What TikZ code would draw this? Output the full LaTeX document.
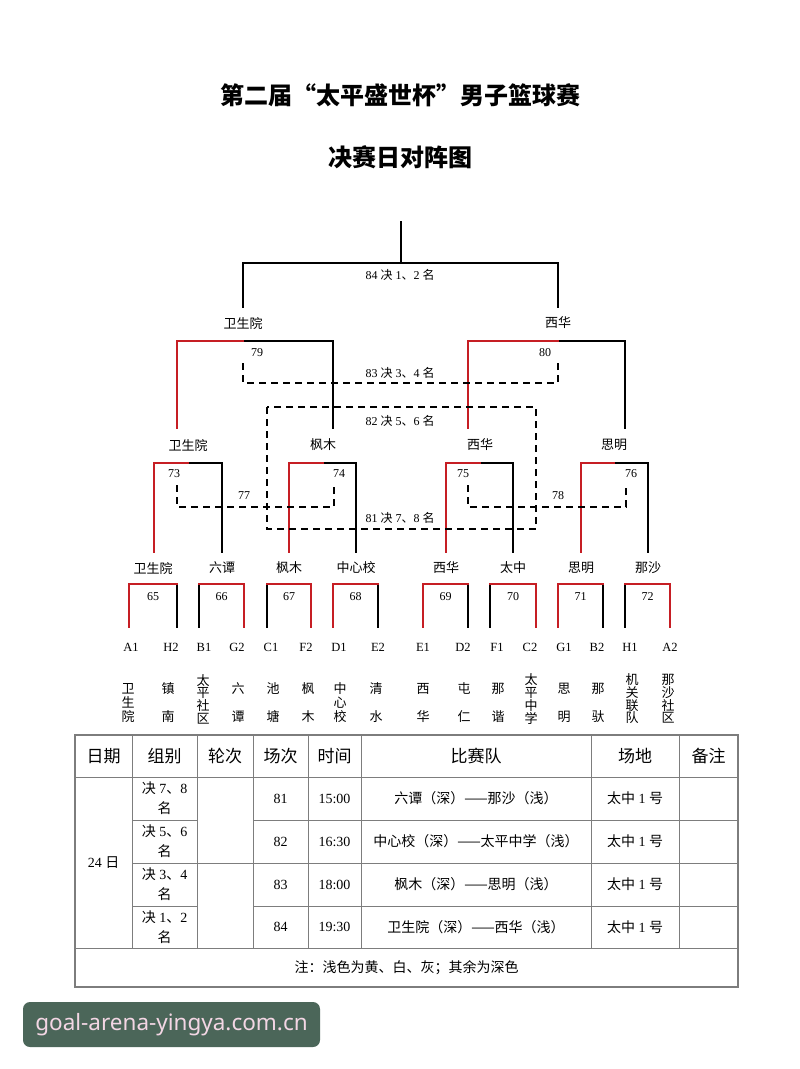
\documentclass[tikz,border=0pt]{standalone}
\usepackage{fontspec}
\setmainfont{Liberation Serif}
\newfontfamily\cjk{Noto Sans CJK SC}
\newfontfamily\wmfont{Noto Sans}
\definecolor{brred}{RGB}{198,30,36}
\definecolor{tabgray}{RGB}{125,125,125}
\definecolor{wmgreen}{RGB}{75,102,89}
\definecolor{wmpink}{RGB}{243,214,228}
\usetikzlibrary{positioning}
\newcommand{\jue}[3]{#1 {\cjk 决} #2{\cjk 、}#3 {\cjk 名}}
\newcommand{\grp}[2]{{\cjk 决} #1{\cjk 、}#2\\{\cjk 名}}

\begin{document}
\begin{tikzpicture}[x=1pt,y=-1pt,
  title/.style={font=\cjk\bfseries\fontsize{24}{28}\selectfont,inner sep=0pt},
  team/.style={font=\cjk\fontsize{13}{15}\selectfont,inner sep=0pt},
  num/.style={font=\fontsize{12}{14}\selectfont,inner sep=0pt},
  code/.style={font=\fontsize{12.5}{14}\selectfont,inner sep=0pt},
  redline/.style={draw=brred,line width=2pt,line cap=rect},
  blkline/.style={draw=black,line width=2pt,line cap=rect},
  dashline/.style={draw=black,line width=2pt,dash pattern=on 7pt off 5pt},
  grid/.style={draw=tabgray,line width=1pt},
  thead/.style={font=\cjk\fontsize{17}{20}\selectfont,inner sep=0pt},
  tcell/.style={font=\fontsize{14}{20}\selectfont,inner sep=0pt,align=center}]

\fill[white] (0,0) rectangle (800,1069);
\useasboundingbox (0,0) rectangle (800,1069);

% titles
\node[title] (title1) at (400,95) {第二届“太平盛世杯”男子篮球赛};
\node[title] (title2) at (400,157) {决赛日对阵图};

% first round, 65-72
\foreach \m/\l/\r/\cl/\cr in {65/129/177/brred/black, 66/199/244/black/brred,
    67/267/311/black/brred, 68/333/378/brred/black, 69/423/468/brred/black,
    70/490/536/black/brred, 71/558/603/brred/black, 72/625/670/black/brred}{
  \coordinate (m\m-tl) at (\l,584);
  \coordinate (m\m-tr) at (\r,584);
  \coordinate (m\m-bl) at (\l,627);
  \coordinate (m\m-br) at (\r,627);
  \draw[blkline,draw=\cl] (m\m-bl) -- (m\m-tl);
  \draw[blkline,draw=\cr] (m\m-br) -- (m\m-tr);
  \draw[redline] (m\m-tl) -- (m\m-tr);
  \node[num] (m\m) at ({(\l+\r)/2},597) {\m};
}

% group codes
\foreach \x/\c in {131/A1,171/H2,204/B1,237/G2,271/C1,306/F2,339/D1,378/E2,
    423/E1,463/D2,497/F1,530/C2,564/G1,597/B2,630/H1,670/A2}
  \node[code] (c\c) at (\x,647) {\c};

% team names, set upright in a column
\foreach \x/\y/\s/\t [count=\i] in {128/703/14/{卫\\生\\院}, 168/703/28/{镇\\南},
    203/699/12.7/{太\\平\\社\\区}, 238/703/28/{六\\谭}, 273/703/28/{池\\塘},
    308/703/28/{枫\\木}, 340/703/14/{中\\心\\校}, 376/703/28/{清\\水},
    423/703/28/{西\\华}, 464/703/28/{屯\\仁}, 498/703/28/{那\\谐},
    531/699/12.7/{太\\平\\中\\学}, 564/703/28/{思\\明}, 598/703/28/{那\\驮},
    632/699/12.7/{机\\关\\联\\队}, 668/699/12.7/{那\\沙\\社\\区}}
  \node[team,align=center,font=\cjk\fontsize{13}{\s}\selectfont] (tm\i) at (\x,\y) {\t};

% winners of the first round
\foreach \x/\t [count=\i] in {153/卫生院,222/六谭,289/枫木,356/中心校,
    446/西华,513/太中,581/思明,648/那沙}
  \node[team] (wa\i) at (\x,568) {\t};

% second round, 73-76
\foreach \m/\l/\c/\r/\nx in {73/154/188/222/174, 74/289/323/356/339,
    75/446/480/513/463, 76/581/614/648/631}{
  \coordinate (m\m-bl) at (\l,552);
  \coordinate (m\m-tl) at (\l,463);
  \coordinate (m\m-tc) at (\c,463);
  \coordinate (m\m-tr) at (\r,463);
  \coordinate (m\m-br) at (\r,552);
  \draw[blkline] (m\m-tc) -- (m\m-tr) -- (m\m-br);
  \draw[redline] (m\m-bl) -- (m\m-tl) -- (m\m-tc);
  \node[num] (m\m) at (\nx,474) {\m};
}
\foreach \x/\t [count=\i] in {188/卫生院,323/枫木,480/西华,614/思明}
  \node[team] (wb\i) at (\x,445) {\t};

% semi finals, 79-80
\foreach \m/\l/\c/\r/\nx in {79/177/243/333/257, 80/468/558/625/545}{
  \coordinate (m\m-bl) at (\l,428);
  \coordinate (m\m-tl) at (\l,341);
  \coordinate (m\m-tc) at (\c,341);
  \coordinate (m\m-tr) at (\r,341);
  \coordinate (m\m-br) at (\r,428);
  \draw[blkline] (m\m-tc) -- (m\m-tr) -- (m\m-br);
  \draw[redline] (m\m-bl) -- (m\m-tl) -- (m\m-tc);
  \node[num] (m\m) at (\nx,353) {\m};
}
\node[team] (wc1) at (243,323) {卫生院};
\node[team] (wc2) at (558,323) {西华};

% final, 84
\coordinate (fin-l) at (243,307);
\coordinate (fin-tl) at (243,263);
\coordinate (fin-tr) at (558,263);
\coordinate (fin-r) at (558,307);
\coordinate (fin-mid) at (401,263);
\coordinate (fin-top) at (401,222);
\draw[blkline] (fin-l) -- (fin-tl) -- (fin-tr) -- (fin-r);
\draw[blkline] (fin-mid) -- (fin-top);
\node[num] (g84) at (400,275) {\jue{84}{1}{2}};

% play-offs for the other places
\coordinate (p83-l) at (243,363);
\coordinate (p83-r) at (558,363);
\draw[dashline] (p83-l) -- (243,383) -- (558,383) -- (p83-r);
\node[num] (g83) at (400,373) {\jue{83}{3}{4}};

\coordinate (p82-tl) at (267,407);
\coordinate (p81-br) at (536,529);
\draw[dashline] (p82-tl) rectangle (p81-br);
\node[num] (g82) at (400,421) {\jue{82}{5}{6}};
\node[num] (g81) at (400,518) {\jue{81}{7}{8}};

\coordinate (p77-l) at (177,485);
\coordinate (p77-r) at (334,485);
\draw[dashline] (p77-l) -- (177,507) -- (334,507) -- (p77-r);
\node[num] (g77) at (244,496) {77};
\coordinate (p78-l) at (468,485);
\coordinate (p78-r) at (626,485);
\draw[dashline] (p78-l) -- (468,507) -- (626,507) -- (p78-r);
\node[num] (g78) at (558,496) {78};

% schedule table
\draw[grid,line width=1.4pt] (75,735) rectangle (738,987);
\draw[grid] (75,777) -- (738,777);
\draw[grid] (75,948) -- (738,948);
\draw[grid] (132,863) -- (738,863);
\foreach \y in {820,906}{
  \draw[grid] (132,\y) -- (197,\y);
  \draw[grid] (253,\y) -- (738,\y);
}
\foreach \x in {132,197,253,308,361,591,679}
  \draw[grid] (\x,735) -- (\x,948);

\foreach \x/\t [count=\i] in {103.5/日期,164.5/组别,225/轮次,280.5/场次,
    334.5/时间,476/比赛队,635/场地,708.5/备注}
  \node[thead] (h\i) at (\x,756) {\t};

\foreach \y/\a/\b/\n/\tm/\vs [count=\i] in {
    798.5/7/8/81/15:00/{六谭（深）——那沙（浅）},
    841.5/5/6/82/16:30/{中心校（深）——太平中学（浅）},
    884.5/3/4/83/18:00/{枫木（深）——思明（浅）},
    927/1/2/84/19:30/{卫生院（深）——西华（浅）}}{
  \node[tcell] (grp\i) at (164.5,\y) {\grp{\a}{\b}};
  \node[tcell] (no\i) at (280.5,\y) {\n};
  \node[tcell] (tm\i) at (334.5,\y) {\tm};
  \node[tcell,font=\cjk\fontsize{14}{17}\selectfont] (vs\i) at (476,\y) {\vs};
  \node[tcell] (site\i) at (635,\y) {{\cjk 太中} 1 {\cjk 号}};
}
\node[tcell] (date) at (103.5,863) {24 {\cjk 日}};
\node[tcell,font=\cjk\fontsize{14}{17}\selectfont] (note) at (406.5,968)
  {注：浅色为黄、白、灰；其余为深色};

% site mark
\node[fill=wmgreen,rounded corners=7pt,text=wmpink,inner sep=0pt,
  minimum width=297pt,minimum height=45pt,font=\wmfont\fontsize{22.5}{26}\selectfont]
  (site) at (171.5,1024.5) {goal-arena-yingya.com.cn};
\end{tikzpicture}
\end{document}
